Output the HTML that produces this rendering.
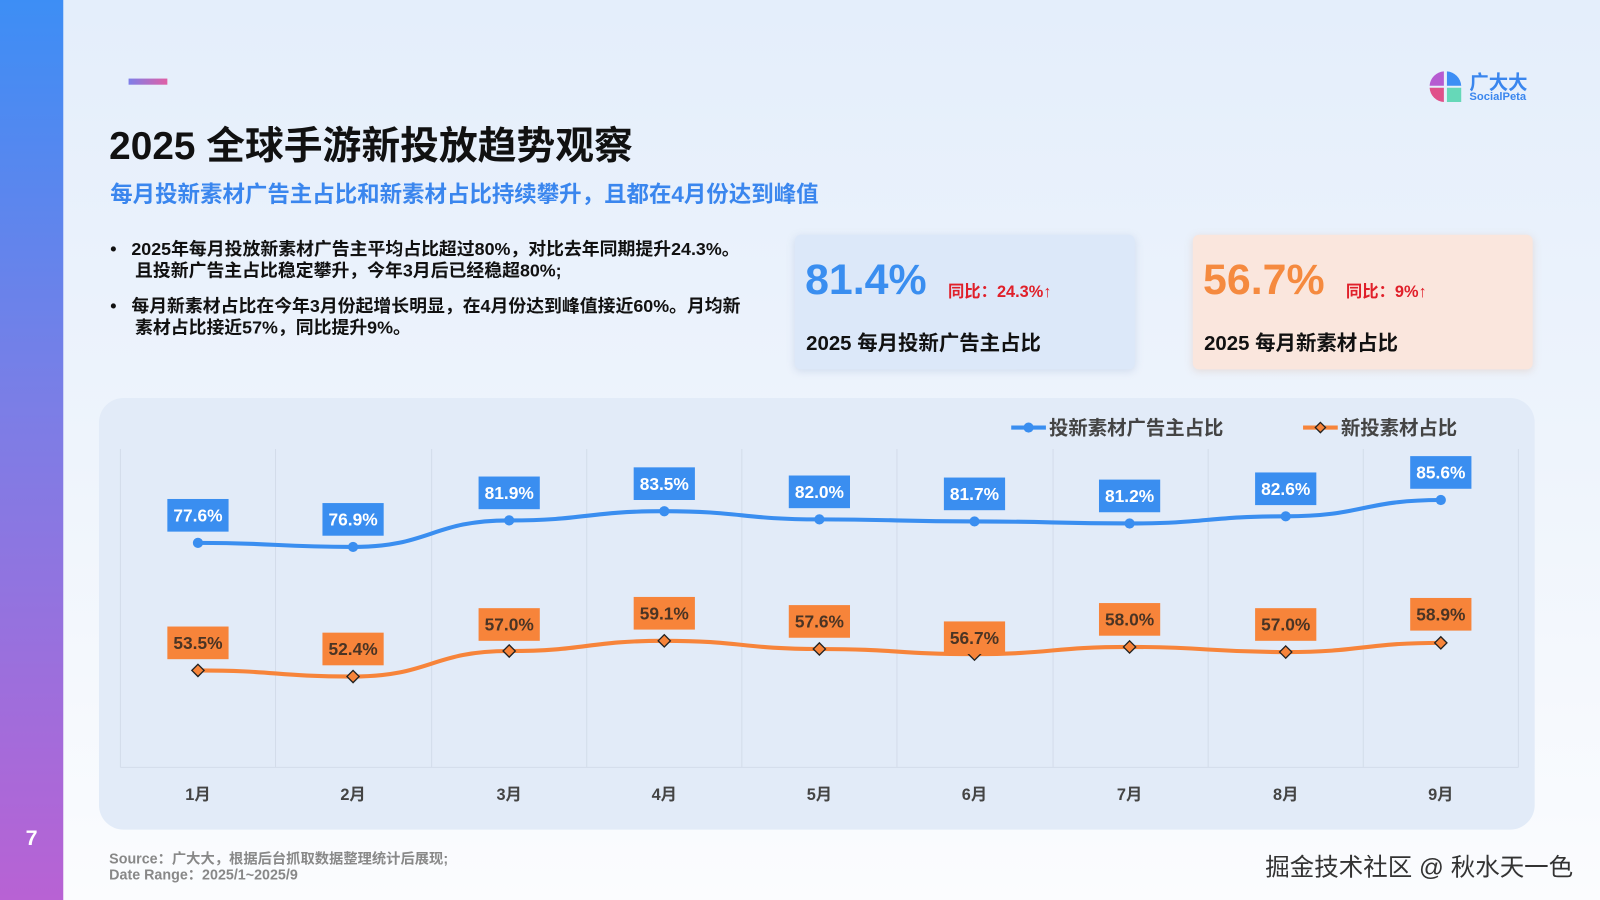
<!DOCTYPE html>
<html><head><meta charset="utf-8"><style>
html,body{margin:0;padding:0;width:1600px;height:900px;overflow:hidden;}
#w{position:absolute;left:0;top:0;width:1568px;height:882px;transform:scale(1.020408);transform-origin:0 0;
background:linear-gradient(180deg,#e4eefb 0%,#eef4fc 50%,#fbfcfe 100%);font-family:"Liberation Sans","Noto Sans CJK SC",sans-serif;}
.a{position:absolute;white-space:nowrap;}
</style></head><body><div id="w">
<div class="a" style="left:0;top:0;width:62px;height:882px;background:linear-gradient(180deg,#3d8ef5 0%,#7b7ee6 45%,#b862d4 100%)"></div>
<div class="a" style="left:0;width:62px;text-align:center;top:810px;color:#fff;font-weight:bold;font-size:21px">7</div>
<div class="a" style="left:126px;top:77px;width:38px;height:6px;background:linear-gradient(90deg,#7e7fe8,#e05fa5)"></div>
<svg class="a" style="left:1400px;top:68px" width="34" height="34" viewBox="0 0 34 34">
<path d="M15 2 A15 15 0 0 0 1 16 H15Z" fill="#b65bd1"/><path d="M18 2 A15 15 0 0 1 32 16 H18Z" fill="#3d8ef5"/>
<path d="M15 18 H1 A15 15 0 0 0 15 32Z" fill="#e0508a"/><path d="M18 18 H32 V32 H18Z" fill="#66d8b8"/></svg>
<div class="a" style="left:1440px;top:66px;color:#3a86ee;font-weight:bold;font-size:19px">广大大</div>
<div class="a" style="left:1440px;top:89px;color:#3a86ee;font-weight:bold;font-size:11px">SocialPeta</div>
<div class="a" style="left:107px;top:112px;font-weight:bold;font-size:38px;color:#111">2025 全球手游新投放趋势观察</div>
<div class="a" style="left:108px;top:173px;font-weight:bold;font-size:22px;color:#3a86ee">每月投新素材广告主占比和新素材占比持续攀升，且都在4月份达到峰值</div>
<div class="a" style="left:108px;top:234px;font-weight:bold;font-size:17.5px;color:#111;line-height:21px">•&nbsp;&nbsp; 2025年每月投放新素材广告主平均占比超过80%，对比去年同期提升24.3%。<br>&nbsp;&nbsp;&nbsp;&nbsp; 且投新广告主占比稳定攀升，今年3月后已经稳超80%;</div>
<div class="a" style="left:108px;top:290px;font-weight:bold;font-size:17.5px;color:#111;line-height:21px">•&nbsp;&nbsp; 每月新素材占比在今年3月份起增长明显，在4月份达到峰值接近60%。月均新<br>&nbsp;&nbsp;&nbsp;&nbsp; 素材占比接近57%，同比提升9%。</div>
<div class="a" style="left:779px;top:230px;width:333px;height:132px;background:#dce8f9;border-radius:6px;box-shadow:0 2px 8px rgba(150,170,210,.3)"></div>
<div class="a" style="left:789px;top:250px;font-weight:bold;font-size:42px;color:#3a8ef0">81.4%</div>
<div class="a" style="left:929px;top:272px;font-weight:bold;font-size:16px;color:#e0202a">同比：24.3%↑</div>
<div class="a" style="left:790px;top:320px;font-weight:bold;font-size:20px;color:#111">2025 每月投新广告主占比</div>
<div class="a" style="left:1169px;top:230px;width:333px;height:132px;background:#fae6dd;border-radius:6px;box-shadow:0 2px 8px rgba(210,170,150,.3)"></div>
<div class="a" style="left:1179px;top:250px;font-weight:bold;font-size:42px;color:#f58a3f">56.7%</div>
<div class="a" style="left:1319px;top:272px;font-weight:bold;font-size:16px;color:#e0202a">同比：9%↑</div>
<div class="a" style="left:1180px;top:320px;font-weight:bold;font-size:20px;color:#111">2025 每月新素材占比</div>
<div class="a" style="left:97px;top:390px;width:1407px;height:423px;background:#e2ebf8;border-radius:24px"></div>
<svg class="a" style="left:0;top:0" width="1568" height="882" font-family="Liberation Sans,Noto Sans CJK SC,sans-serif" font-weight="bold">
<g stroke="#d3dcea" stroke-width="1">
<line x1="118" y1="440" x2="118" y2="752"/><line x1="270" y1="440" x2="270" y2="752"/><line x1="423" y1="440" x2="423" y2="752"/><line x1="575" y1="440" x2="575" y2="752"/><line x1="727" y1="440" x2="727" y2="752"/><line x1="879" y1="440" x2="879" y2="752"/><line x1="1032" y1="440" x2="1032" y2="752"/><line x1="1184" y1="440" x2="1184" y2="752"/><line x1="1336" y1="440" x2="1336" y2="752"/><line x1="1488" y1="440" x2="1488" y2="752"/>
<line x1="118" y1="752" x2="1488" y2="752"/></g>
<path d="M194 532 C270 532 270 536 346 536 C422 536 423 510 499 510 C575 510 575 501 651 501 C727 501 727 509 803 509 C879 509 879 511 955 511 C1031 511 1031 513 1107 513 C1183 513 1184 506 1260 506 C1336 506 1336 490 1412 490" fill="none" stroke="#3a8ef0" stroke-width="4"/>
<path d="M194 657 C270 657 270 663 346 663 C422 663 423 638 499 638 C575 638 575 628 651 628 C727 628 727 636 803 636 C879 636 879 641 955 641 C1031 641 1031 634 1107 634 C1183 634 1184 639 1260 639 C1336 639 1336 630 1412 630" fill="none" stroke="#f7843a" stroke-width="4"/>
<g fill="#3a8ef0"><circle cx="194" cy="532" r="5"/><circle cx="346" cy="536" r="5"/><circle cx="499" cy="510" r="5"/><circle cx="651" cy="501" r="5"/><circle cx="803" cy="509" r="5"/><circle cx="955" cy="511" r="5"/><circle cx="1107" cy="513" r="5"/><circle cx="1260" cy="506" r="5"/><circle cx="1412" cy="490" r="5"/></g>
<g fill="#f7843a" stroke="#222" stroke-width="1.3">
<path d="M194 651 l6 6 l-6 6 l-6 -6z"/><path d="M346 657 l6 6 l-6 6 l-6 -6z"/><path d="M499 632 l6 6 l-6 6 l-6 -6z"/><path d="M651 622 l6 6 l-6 6 l-6 -6z"/><path d="M803 630 l6 6 l-6 6 l-6 -6z"/><path d="M955 635 l6 6 l-6 6 l-6 -6z"/><path d="M1107 628 l6 6 l-6 6 l-6 -6z"/><path d="M1260 633 l6 6 l-6 6 l-6 -6z"/><path d="M1412 624 l6 6 l-6 6 l-6 -6z"/></g>
<g fill="#3a8ef0"><rect x="164" y="489" width="60" height="32"/><rect x="316" y="493" width="60" height="32"/><rect x="469" y="467" width="60" height="32"/><rect x="621" y="458" width="60" height="32"/><rect x="773" y="466" width="60" height="32"/><rect x="925" y="468" width="60" height="32"/><rect x="1077" y="470" width="60" height="32"/><rect x="1230" y="463" width="60" height="32"/><rect x="1382" y="447" width="60" height="32"/></g>
<g fill="#fff" font-size="17" text-anchor="middle"><text x="194" y="511">77.6%</text><text x="346" y="515">76.9%</text><text x="499" y="489">81.9%</text><text x="651" y="480">83.5%</text><text x="803" y="488">82.0%</text><text x="955" y="490">81.7%</text><text x="1107" y="492">81.2%</text><text x="1260" y="485">82.6%</text><text x="1412" y="469">85.6%</text></g>
<g fill="#f7843a"><rect x="164" y="614" width="60" height="32"/><rect x="316" y="620" width="60" height="32"/><rect x="469" y="596" width="60" height="32"/><rect x="621" y="585" width="60" height="32"/><rect x="773" y="593" width="60" height="32"/><rect x="925" y="609" width="60" height="32"/><rect x="1077" y="591" width="60" height="32"/><rect x="1230" y="596" width="60" height="32"/><rect x="1382" y="586" width="60" height="32"/></g>
<g fill="#4a3424" font-size="17" text-anchor="middle"><text x="194" y="636">53.5%</text><text x="346" y="642">52.4%</text><text x="499" y="618">57.0%</text><text x="651" y="607">59.1%</text><text x="803" y="615">57.6%</text><text x="955" y="631">56.7%</text><text x="1107" y="613">58.0%</text><text x="1260" y="618">57.0%</text><text x="1412" y="608">58.9%</text></g>
<g fill="#444" font-size="16" text-anchor="middle"><text x="194" y="784">1月</text><text x="346" y="784">2月</text><text x="499" y="784">3月</text><text x="651" y="784">4月</text><text x="803" y="784">5月</text><text x="955" y="784">6月</text><text x="1107" y="784">7月</text><text x="1260" y="784">8月</text><text x="1412" y="784">9月</text></g>
<line x1="991" y1="419" x2="1025" y2="419" stroke="#3a8ef0" stroke-width="4"/><circle cx="1008" cy="419" r="5" fill="#3a8ef0"/>
<text x="1028" y="426" font-size="19" fill="#444">投新素材广告主占比</text>
<line x1="1277" y1="419" x2="1311" y2="419" stroke="#f7843a" stroke-width="4"/><path d="M1294 414 l5 5 l-5 5 l-5 -5z" fill="#f7843a" stroke="#222" stroke-width="1.3"/>
<text x="1314" y="426" font-size="19" fill="#444">新投素材占比</text>
</svg>
<div class="a" style="left:107px;top:833px;font-weight:bold;font-size:14px;color:#888;line-height:16px">Source：广大大，根据后台抓取数据整理统计后展现;<br>Date Range：2025/1~2025/9</div>
<div class="a" style="left:1240px;top:830px;font-size:24px;color:#333">掘金技术社区 @ 秋水天一色</div>
</div></body></html>
